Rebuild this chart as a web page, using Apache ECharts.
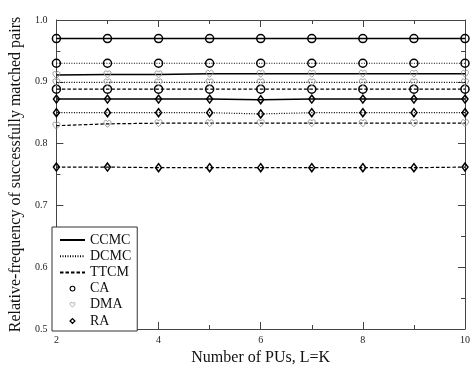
<!DOCTYPE html>
<html><head><meta charset="utf-8">
<script src="https://cdn.jsdelivr.net/npm/echarts@6/dist/echarts.min.js"></script>
<style>html,body{margin:0;padding:0;background:#fff}#c{width:473px;height:371px}</style>
</head><body><div id="c"></div>
<script>
const xVals = [2, 3, 4, 5, 6, 7, 8, 9, 10];
const ccmcCA  = [0.970, 0.970, 0.970, 0.970, 0.970, 0.970, 0.970, 0.970, 0.970];
const dcmcCA  = [0.930, 0.930, 0.930, 0.930, 0.930, 0.930, 0.930, 0.930, 0.930];
const ttcmCA  = [0.888, 0.888, 0.888, 0.888, 0.888, 0.888, 0.888, 0.888, 0.888];
const ccmcDMA = [0.911, 0.912, 0.912, 0.913, 0.913, 0.913, 0.913, 0.913, 0.913];
const dcmcDMA = [0.899, 0.899, 0.899, 0.899, 0.899, 0.899, 0.899, 0.899, 0.899];
const ttcmDMA = [0.829, 0.832, 0.833, 0.833, 0.833, 0.833, 0.833, 0.833, 0.833];
const ccmcRA  = [0.872, 0.872, 0.872, 0.872, 0.871, 0.872, 0.872, 0.872, 0.872];
const dcmcRA  = [0.850, 0.850, 0.850, 0.850, 0.848, 0.850, 0.850, 0.850, 0.850];
const ttcmRA  = [0.762, 0.762, 0.761, 0.761, 0.761, 0.761, 0.761, 0.761, 0.762];
const legendNames = ['CCMC', 'DCMC', 'TTCM', 'CA', 'DMA', 'RA'];

const FONT = '"Liberation Serif", "Times New Roman", serif';
const HEART = 'path://M12 22 C6 16 1 12 1 7 C1 3.5 3.5 1 6.5 1 C9 1 11 2.5 12 5 C13 2.5 15 1 17.5 1 C20.5 1 23 3.5 23 7 C23 12 18 16 12 22 Z';
const styles = {
  CCMC: {type: 'solid', width: 1.5},
  DCMC: {type: [1, 1.5], width: 1.2},
  TTCM: {type: [3.5, 2], width: 1.2}
};
const marks = {
  CA: {symbol: 'circle', size: 8, color: '#000', bw: 1.5},
  DMA: {symbol: HEART, size: 7, color: '#999', bw: 1},
  RA: {symbol: 'diamond', size: [6, 8], color: '#000', bw: 1.5}
};
const combos = [
  ['CCMC', 'CA', ccmcCA], ['DCMC', 'CA', dcmcCA], ['TTCM', 'CA', ttcmCA],
  ['CCMC', 'DMA', ccmcDMA], ['DCMC', 'DMA', dcmcDMA], ['TTCM', 'DMA', ttcmDMA],
  ['CCMC', 'RA', ccmcRA], ['DCMC', 'RA', dcmcRA], ['TTCM', 'RA', ttcmRA]
];
const series = [];
combos.forEach(([l, m, vals]) => {
  const mk = marks[m];
  series.push({
    type: 'line', name: l + '-' + m,
    data: xVals.map((x, i) => [x, vals[i]]),
    symbol: mk.symbol, symbolSize: mk.size, showAllSymbol: true,
    lineStyle: {color: '#000', width: styles[l].width, type: styles[l].type},
    itemStyle: {color: 'rgba(0,0,0,0)', borderColor: mk.color, borderWidth: mk.bw},
    z: 2, animation: false, silent: true
  });
});
// legend dummy series
['CCMC', 'DCMC', 'TTCM'].forEach(l => {
  series.push({type: 'line', name: l, data: [], symbol: 'circle',
    lineStyle: {color: '#000', width: styles[l].width, type: styles[l].type},
    itemStyle: {color: '#000'}});
});
['CA', 'DMA', 'RA'].forEach(m => {
  const mk = marks[m];
  series.push({type: 'line', name: m, data: [], symbol: mk.symbol,
    lineStyle: {color: '#000', width: 0},
    itemStyle: {color: 'rgba(0,0,0,0)', borderColor: mk.color, borderWidth: 1}});
});

const tickCommon = {
  axisLine: {show: true, lineStyle: {color: '#444', width: 1}},
  axisTick: {show: true, inside: true, length: 7, lineStyle: {color: '#444'}},
  minorTick: {show: true, splitNumber: 2, length: 4, lineStyle: {color: '#444'}},
  splitLine: {show: false}, minorSplitLine: {show: false}
};

const chart = echarts.init(document.getElementById('c'), null, {renderer: 'canvas'});
chart.setOption({
  animation: false,
  backgroundColor: '#fff',
  textStyle: {fontFamily: FONT},
  grid: {left: 53, right: 5, top: 20, bottom: 40, containLabel: false},
  legend: {
    orient: 'vertical', left: 52, bottom: 40,
    backgroundColor: '#fff',
    borderColor: '#333', borderWidth: 1,
    padding: [6, 6, 3, 7],
    itemWidth: 25, itemHeight: 6,
    itemGap: 2.2,
    textStyle: {fontFamily: FONT, fontSize: 14, color: '#111', lineHeight: 14},
    data: [
      {name: 'CCMC', itemStyle: {opacity: 0}},
      {name: 'DCMC', itemStyle: {opacity: 0}},
      {name: 'TTCM', itemStyle: {opacity: 0}},
      {name: 'CA', lineStyle: {opacity: 0}, itemStyle: {color: 'rgba(0,0,0,0)', borderColor: '#000', borderWidth: 1.1}},
      {name: 'DMA', lineStyle: {opacity: 0}, itemStyle: {color: 'rgba(0,0,0,0)', borderColor: '#999', borderWidth: 0.8}},
      {name: 'RA', lineStyle: {opacity: 0}, itemStyle: {color: 'rgba(0,0,0,0)', borderColor: '#000', borderWidth: 1.3}}
    ],
    selectedMode: false
  },
  xAxis: [
    Object.assign({
      type: 'value', min: 2, max: 10, interval: 2, position: 'bottom',
      name: 'Number of PUs, L=K', nameLocation: 'middle', nameGap: 21,
      nameTextStyle: {fontFamily: FONT, fontSize: 16, color: '#111'},
      axisLabel: {fontFamily: FONT, fontSize: 10, color: '#222', margin: 6}
    }, tickCommon),
    Object.assign({
      type: 'value', min: 2, max: 10, interval: 2, position: 'top',
      axisLabel: {show: false}
    }, tickCommon)
  ],
  yAxis: [
    Object.assign({
      type: 'value', min: 0.5, max: 1.0, interval: 0.1, position: 'left',
      name: 'Relative-frequency of successfully matched pairs',
      nameLocation: 'middle', nameGap: 26,
      nameTextStyle: {fontFamily: FONT, fontSize: 16, color: '#111'},
      axisLabel: {fontFamily: FONT, fontSize: 10, color: '#222', margin: 9,
        formatter: v => v.toFixed(1)}
    }, tickCommon),
    Object.assign({
      type: 'value', min: 0.5, max: 1.0, interval: 0.1, position: 'right',
      axisLabel: {show: false}
    }, tickCommon)
  ],
  series: series
});
</script></body></html>
